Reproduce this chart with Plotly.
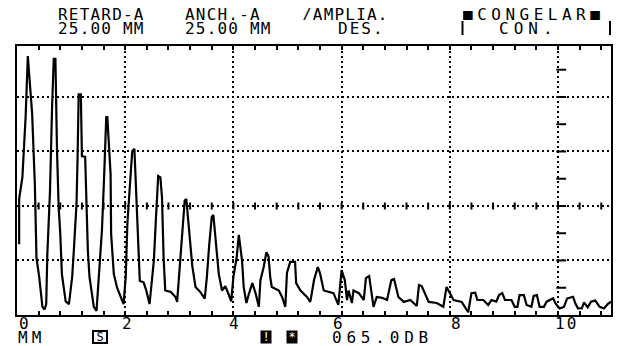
import plotly.graph_objects as go

# ---- data: distance in mm, amplitude in % of screen height
trace_mm = [0.04, 0.04, 0.10, 0.16, 0.20, 0.23, 0.28, 0.33, 0.36, 0.41, 0.47, 0.51, 0.54, 0.56, 0.61, 0.65, 0.68, 0.71,
            0.72, 0.74, 0.77, 0.80, 0.83, 0.90, 0.96, 1.02, 1.05, 1.10, 1.12, 1.14, 1.18, 1.20, 1.26, 1.28, 1.31, 1.34,
            1.42, 1.47, 1.51, 1.54, 1.57, 1.61, 1.65, 1.67, 1.71, 1.73, 1.74, 1.79, 1.85, 1.91, 1.97,
            2.01, 2.04, 2.08, 2.10, 2.13, 2.17, 2.19, 2.22, 2.24, 2.27, 2.34, 2.39, 2.45, 2.49, 2.53, 2.57, 2.61, 2.65,
            2.68, 2.71, 2.74, 2.84, 2.93, 2.96, 2.99, 3.05, 3.10, 3.13, 3.17, 3.24, 3.30, 3.39, 3.47, 3.51, 3.55, 3.60,
            3.63, 3.68, 3.73, 3.79, 3.85, 3.91, 3.96, 4.00, 4.06,
            4.10, 4.14, 4.16, 4.19, 4.24, 4.29, 4.35, 4.41, 4.47, 4.50, 4.56, 4.61, 4.65, 4.68, 4.71, 4.84, 4.90, 4.96,
            4.99, 5.05, 5.14, 5.16, 5.24, 5.36, 5.42, 5.45, 5.49, 5.56, 5.60, 5.67, 5.76, 5.85, 5.94, 6.00, 6.06, 6.10,
            6.13, 6.19, 6.22, 6.32, 6.41, 6.45, 6.51, 6.56, 6.59, 6.65, 6.75, 6.84, 6.92, 6.97, 7.05, 7.15, 7.27, 7.39,
            7.43, 7.48, 7.57, 7.61, 7.76, 7.88, 7.94, 8.00, 8.07, 8.22, 8.34, 8.40, 8.47, 8.51,
            8.62, 8.71, 8.77, 8.86, 8.91, 8.97, 9.02, 9.14, 9.20, 9.25, 9.29, 9.37, 9.42, 9.51, 9.55, 9.61, 9.66, 9.74,
            9.79, 9.91, 9.95, 10.03, 10.11, 10.17, 10.28, 10.32, 10.37, 10.44, 10.48, 10.55, 10.61, 10.69, 10.77, 10.85,
            10.92, 10.98]
trace_amp = [26, 42.6, 50.6, 73, 95, 85.5, 73.8, 48, 21, 14, 3, 2, 4, 22, 45.5, 77.4, 94, 94,
             76, 60, 39.6, 29.7, 15, 5, 4, 14, 23.5, 40.7, 58, 81, 81, 58.3, 58, 39.6, 23.5, 14,
             3, 1.5, 14, 21, 31, 50.6, 72.6, 72.6, 59, 51.7, 29.7, 15, 10, 6.6, 4,
             14, 33.4, 45.5, 53, 60, 61, 50.6, 38, 25, 12.5, 12, 9, 4, 11.4, 20, 36, 51, 50.5,
             43.3, 21, 9, 8.5, 6.6, 4.8, 12.5, 29, 42, 42.5, 34.5, 18, 10.3, 8.4, 6, 14, 25, 36,
             36.7, 26, 15, 9, 10.6, 7.7, 5, 14, 21,
             29.4, 23.9, 20, 10.3, 4.4, 8, 11.7, 8, 3, 12.8, 17.6, 23, 21.5, 14, 10.3, 9, 6.6, 3,
             15.4, 19.5, 19.5, 11.7, 9, 6.6, 4.8, 8, 12.8, 17.6, 15.4, 9, 8.4, 8, 3.7, 16.5, 12.8, 5.5,
             9, 4.4, 9, 8, 5.5, 13.5, 14.3, 6.6, 3, 6.6, 6.3, 5.5, 12.8, 13.2, 6.6, 4.8, 5.5, 3.3,
             11, 10.6, 6.6, 4.8, 4.4, 3, 10.3, 8, 5.5, 4.8, 1, 8, 8.2, 5.5,
             5.5, 3.7, 5.5, 4.9, 7.3, 8, 5.5, 5.5, 3, 3, 7.3, 7.3, 3.7, 3, 7, 7.3, 3, 3,
             4.9, 6.1, 4.3, 2.4, 3, 6.1, 6.7, 4.3, 2.4, 2.4, 4.6, 2.8, 4.9, 5.3, 3, 2.4,
             4, 4.9]

x_tick_text = ["0", "2", "4", "6", "8", "10"]
x_grid_vals = [2, 4, 6, 8, 10]
y_grid_vals = [20, 40, 60, 80]
minor_tick_mm = [0.4 * k for k in range(1, 28)]
gate_tick_amp = [10, 20, 30, 40, 50, 60, 70, 80, 90]

header_row1 = ["RETARD-A", "ANCH.-A", "/AMPLIA.", "■CONGELAR■"]
header_row2 = ["25.00 MM", "25.00 MM", "DES.", "CON."]
gain_text = "065.0DB"
unit_text = "MM"

# ---- layout geometry (page pixels)
W, H = 621, 346
PLOT_L, PLOT_R, PLOT_T, PLOT_B = 17, 613, 46, 315
L, R, T, B = PLOT_L, W - PLOT_R, PLOT_T, H - PLOT_B
PW, PH = PLOT_R - PLOT_L, PLOT_B - PLOT_T
X_MAX, Y_MAX = 10.98, 98.7
FONT = "DejaVu Sans Mono"


def px(xp):
    return (xp - PLOT_L) / PW


def py(yp):
    return (PLOT_B - yp) / PH


def spaced(text, sp):
    return "<span style='letter-spacing:%spx'>%s</span>" % (sp, text)


fig = go.Figure()

# minor ticks along the 40 % grid line
fig.add_trace(go.Scatter(x=minor_tick_mm, y=[40] * len(minor_tick_mm), mode="markers",
                         marker=dict(symbol="line-ns", size=5, line=dict(width=2, color="black")),
                         hoverinfo="skip", showlegend=False))
# ticks along the 10 mm grid line
fig.add_trace(go.Scatter(x=[10.06] * len(gate_tick_amp), y=gate_tick_amp, mode="markers",
                         marker=dict(symbol="line-ew", size=7, line=dict(width=2, color="black")),
                         hoverinfo="skip", showlegend=False))
# A-scan trace
fig.add_trace(go.Scatter(x=trace_mm, y=trace_amp, mode="lines",
                         line=dict(color="black", width=2.2), hoverinfo="skip", showlegend=False))

fig.update_xaxes(range=[0, X_MAX], tickmode="array", tickvals=x_grid_vals,
                 showticklabels=False, ticks="inside", ticklen=4, tickwidth=2, tickcolor="black",
                 minor=dict(tickmode="linear", tick0=0, dtick=0.4, ticks="inside", ticklen=4,
                            tickwidth=2, tickcolor="black", showgrid=False),
                 showgrid=True, gridcolor="black", gridwidth=2, griddash="2px,3px",
                 showline=True, linecolor="black", linewidth=2, mirror="ticks", zeroline=False,
                 fixedrange=True)
fig.update_yaxes(range=[0, Y_MAX], tickmode="array", tickvals=y_grid_vals, showticklabels=False,
                 ticks="", showgrid=True, gridcolor="black", gridwidth=2, griddash="2px,3px",
                 showline=True, linecolor="black", linewidth=2, mirror=True, zeroline=False,
                 fixedrange=True)

ann = []


def label(text, xp, yp, xanchor="left", size=16, **kw):
    d = dict(text=text, x=px(xp), y=py(yp), xref="paper", yref="paper", xanchor=xanchor,
             yanchor="middle", showarrow=False, height=12, borderpad=0,
             font=dict(family=FONT, size=size, color=kw.pop("color", "black")))
    d.update(kw)
    ann.append(d)


head_x = [57, 185, 302, 463]
head_sp = [1.2, 1.2, 1.2, 4.5]
for t, xp, sp in zip(header_row1, head_x, head_sp):
    label(spaced(t, sp), xp, 14.3)
head2_x = [57, 185, 338, 500]
head2_sp = [1.2, 1.2, 2.0, 5.0]
for t, xp, sp in zip(header_row2, head2_x, head2_sp):
    label(spaced(t, sp), xp, 28.5)

label_px = [18, 121, 229, 333, 451, 556]
for t, xp in zip(x_tick_text, label_px):
    label(spaced(t, 2), xp, 323)
label(spaced(unit_text, 4), 17, 337)
label(spaced(gain_text, 4.8), 332, 337)
label("S", 100.5, 337, xanchor="center", size=12, bordercolor="black", borderwidth=2,
      width=12, height=10)
label("!", 267, 337, xanchor="center", size=12, color="white", bgcolor="black", width=10)
label("*", 293, 337, xanchor="center", size=12, color="white", bgcolor="black", width=10)

shapes = [
    dict(type="line", xref="paper", yref="paper", x0=px(464), x1=px(464), y0=py(21), y1=py(35),
         line=dict(color="black", width=2)),
    dict(type="line", xref="paper", yref="paper", x0=px(612), x1=px(612), y0=py(21), y1=py(35),
         line=dict(color="black", width=2)),
]

fig.update_layout(width=W, height=H, margin=dict(l=L, r=R, t=T, b=B, pad=0),
                  paper_bgcolor="white", plot_bgcolor="white", annotations=ann, shapes=shapes,
                  showlegend=False)

fig.write_html("out.html", config={"displayModeBar": False},
               post_script="document.body.style.margin='0';document.body.style.overflow='hidden';")
